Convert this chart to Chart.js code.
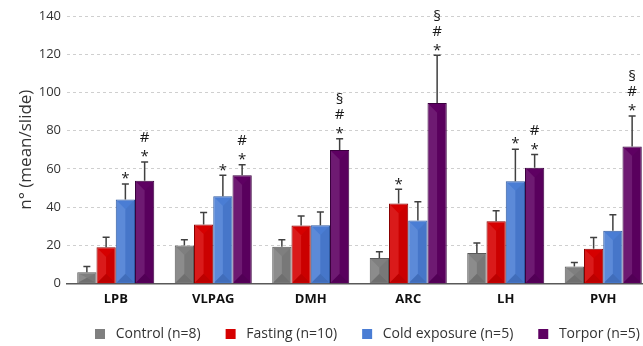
<!DOCTYPE html>
<html>
<head>
<meta charset="utf-8">
<script src="https://cdn.jsdelivr.net/npm/chart.js@4"></script>
<style>
  html, body { margin: 0; padding: 0; background: #fff; overflow: hidden; }
  #wrap { width: 652px; height: 346px; }
</style>
</head>
<body>
<div id="wrap"><canvas id="chart"></canvas></div>
<script>
const categories = ['LPB', 'VLPAG', 'DMH', 'ARC', 'LH', 'PVH'];
const seriesNames = ['Control (n=8)', 'Fasting (n=10)', 'Cold exposure (n=5)', 'Torpor (n=5)'];

const control = [5.8, 19.9, 19.2, 13.3, 15.9, 8.9];
const fasting = [18.9, 30.9, 30.3, 41.8, 32.5, 18.2];
const cold = [43.9, 45.6, 30.4, 32.9, 53.5, 27.6];
const torpor = [53.7, 56.6, 69.9, 94.4, 60.5, 71.7];

// upper error bars (SEM)
const controlErr = [3.0, 3.0, 3.7, 3.3, 5.3, 2.1];
const fastingErr = [5.2, 6.2, 5.0, 7.5, 5.5, 5.8];
const coldErr = [8.2, 11.0, 7.0, 9.8, 16.8, 8.4];
const torporErr = [9.8, 5.5, 5.8, 25.0, 7.0, 15.9];

// significance marks, bottom to top
const controlSig = ['', '', '', '', '', ''];
const fastingSig = ['', '', '', '*', '', ''];
const coldSig = ['*', '*', '', '', '*', ''];
const torporSig = ['*#', '*#', '*#§', '*#§', '*#', '*#§'];

const yTicks = [0, 20, 40, 60, 80, 100, 120, 140];

const colors = ['#7f7f7f', '#d60000', '#4a7dd4', '#5e0062'];
const borders = ['#5a5a5a', '#8a0000', '#2f5aa0', '#3a003e'];

const errs = [controlErr, fastingErr, coldErr, torporErr];
const sigs = [controlSig, fastingSig, coldSig, torporSig];

// simple bevel so the bars look like the raised ones in the original
const bevel = {
  id: 'bevel',
  afterDatasetsDraw(chart) {
    const ctx = chart.ctx;
    ctx.save();
    chart.data.datasets.forEach((ds, i) => {
      chart.getDatasetMeta(i).data.forEach(bar => {
        const l = bar.x - bar.width / 2 + 1, r = bar.x + bar.width / 2 - 1;
        const t = bar.y + 1, b = bar.base - 1;
        const d = Math.min((r - l) / 2, (b - t) / 2);
        ctx.fillStyle = 'rgba(255,255,255,0.10)';
        ctx.beginPath();
        ctx.moveTo(l, t); ctx.lineTo(bar.x, t + d); ctx.lineTo(bar.x, b - d); ctx.lineTo(l, b);
        ctx.closePath(); ctx.fill();
        ctx.fillStyle = 'rgba(0,0,0,0.12)';
        ctx.beginPath();
        ctx.moveTo(l, b); ctx.lineTo(bar.x, b - d); ctx.lineTo(r, b);
        ctx.closePath(); ctx.fill();
        ctx.fillStyle = 'rgba(0,0,0,0.05)';
        ctx.beginPath();
        ctx.moveTo(r, t); ctx.lineTo(bar.x, t + d); ctx.lineTo(bar.x, b - d); ctx.lineTo(r, b);
        ctx.closePath(); ctx.fill();
      });
    });
    ctx.restore();
  }
};

const errorBars = {
  id: 'errorBars',
  afterDatasetsDraw(chart) {
    const ctx = chart.ctx;
    const y = chart.scales.y;
    ctx.save();
    chart.data.datasets.forEach((ds, i) => {
      const meta = chart.getDatasetMeta(i);
      meta.data.forEach((bar, j) => {
        const top = y.getPixelForValue(ds.data[j] + errs[i][j]);
        ctx.strokeStyle = '#404040';
        ctx.lineWidth = 1.5;
        ctx.beginPath();
        ctx.moveTo(bar.x, bar.y);
        ctx.lineTo(bar.x, top);
        ctx.moveTo(bar.x - 3.5, top);
        ctx.lineTo(bar.x + 3.5, top);
        ctx.stroke();
        const marks = sigs[i][j];
        ctx.fillStyle = '#1a1a1a';
        ctx.font = '15px "Open Sans"';
        ctx.textAlign = 'center';
        ctx.textBaseline = 'middle';
        for (let k = 0; k < marks.length; k++) {
          const m = marks[k];
          const dy = m === '*' ? 4 : 0;
          ctx.fillText(m, bar.x, top - 9 - k * 15 + dy);
        }
      });
    });
    ctx.restore();
  }
};

// move the legend row under the plot, as in the original
const legendShift = {
  id: 'legendShift',
  afterLayout(chart) {
    const lg = chart.legend;
    lg.left += 70;
    lg.right += 70;
    lg.top -= 13;
  }
};

new Chart(document.getElementById('chart'), {
  type: 'bar',
  data: {
    labels: categories,
    datasets: [control, fasting, cold, torpor].map((d, i) => ({
      label: seriesNames[i],
      data: d,
      backgroundColor: colors[i],
      borderColor: borders[i],
      borderWidth: 1,
      categoryPercentage: 0.79,
      barPercentage: 1.0
    }))
  },
  options: {
    responsive: true,
    maintainAspectRatio: false,
    animation: false,
    layout: { padding: { top: 16, right: 0, bottom: 0, left: 0 } },
    plugins: {
      tooltip: { enabled: false },
      legend: {
        position: 'bottom',
        align: 'start',
        maxHeight: 31,
        labels: {
          boxWidth: 10,
          boxHeight: 10,
          padding: 25,
          color: '#333',
          font: { family: '"Open Sans"', size: 14 },
          generateLabels: chart => Chart.defaults.plugins.legend.labels.generateLabels(chart)
            .map(l => Object.assign(l, { text: ' ' + l.text, lineWidth: 0 }))
        }
      }
    },
    scales: {
      x: {
        grid: { display: false, drawTicks: false },
        border: { color: '#595959', width: 1.5 },
        ticks: {
          color: '#111',
          padding: 8,
          font: { family: '"Open Sans"', size: 13, weight: 'bold' }
        }
      },
      y: {
        min: 0,
        max: 140,
        afterBuildTicks: axis => { axis.ticks = yTicks.map(v => ({ value: v })); },
        afterFit: axis => { axis.width = 67; },
        grid: { color: '#cfcfcf', borderDash: [3, 3], drawTicks: false,
          lineWidth: ctx => ctx.tick.value === 0 ? 0 : 1 },
        border: { display: false, dash: [3, 3] },
        ticks: {
          color: '#333',
          padding: 6,
          font: { family: '"Open Sans"', size: 13 }
        },
        title: {
          display: true,
          text: 'n° (mean/slide)',
          color: '#333',
          padding: { top: 16, bottom: 0 },
          font: { family: '"Open Sans"', size: 17 }
        }
      }
    }
  },
  plugins: [bevel, errorBars, legendShift]
});
</script>
</body>
</html>
